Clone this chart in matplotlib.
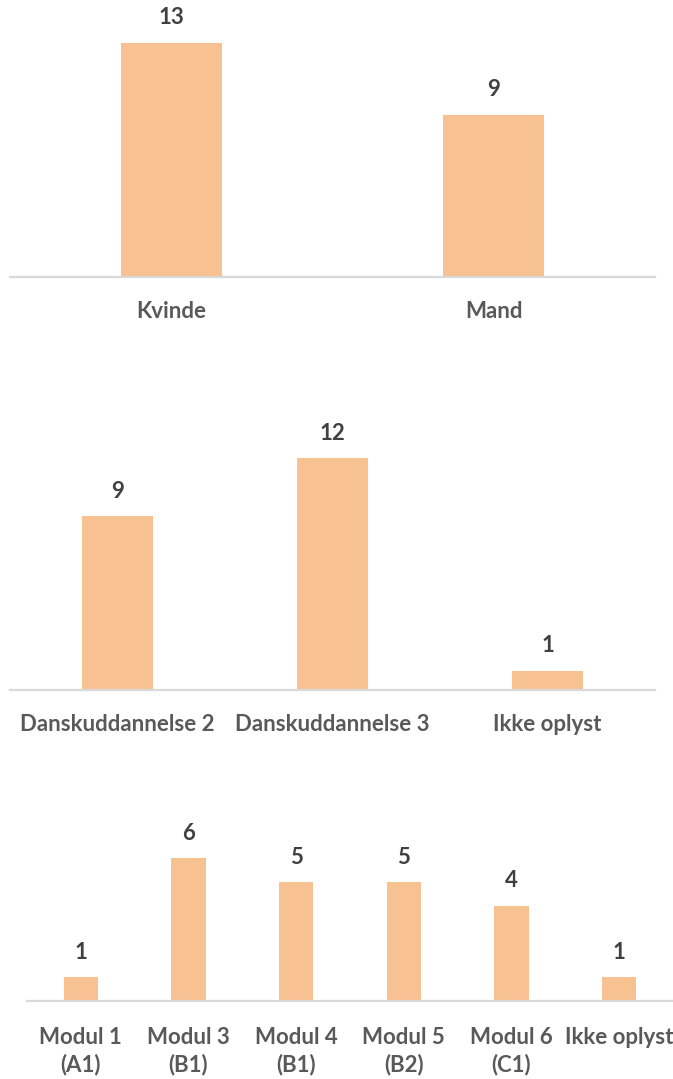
import matplotlib
matplotlib.use("Agg")
import matplotlib.pyplot as plt

plt.rcParams['font.family'] = ['Lato', 'DejaVu Sans']

# Data
gender_labels = ["Kvinde", "Mand"]
gender_values = [13, 9]

edu_labels = ["Danskuddannelse 2", "Danskuddannelse 3", "Ikke oplyst"]
edu_values = [9, 12, 1]

modul_labels = ["Modul 1\n(A1)", "Modul 3\n(B1)", "Modul 4\n(B1)", "Modul 5\n(B2)", "Modul 6\n(C1)", "Ikke oplyst"]
modul_values = [1, 6, 5, 5, 4, 1]

BAR = "#F8C191"
AXIS = "#D9D9D9"
VAL = "#404040"
CAT = "#595959"

W, H = 673, 1079
fig = plt.figure(figsize=(W / 100, H / 100), dpi=100)

def panel(x0, x1, ybase, ppu, top_px, labels, values, width, fs_val=16, fs_cat=16, pad=17):
    bottom = (H - ybase) / H
    height = (ybase - top_px) / H
    ax = fig.add_axes([x0 / W, bottom, (x1 - x0) / W, height])
    ax.set_ylim(0, (ybase - top_px) / ppu)
    n = len(labels)
    ax.set_xlim(-0.5, n - 0.5)
    bars = ax.bar(range(n), values, width=width, color=BAR, zorder=2)
    for b, v in zip(bars, values):
        ax.annotate(str(v), (b.get_x() + b.get_width() / 2, v), xytext=(0, 18),
                    textcoords="offset points", ha="center", va="center",
                    fontsize=fs_val, fontweight="bold", color=VAL)
    for s in ["top", "left", "right"]:
        ax.spines[s].set_visible(False)
    ax.spines["bottom"].set_color(AXIS)
    ax.spines["bottom"].set_linewidth(1.6)
    ax.set_yticks([])
    ax.set_xticks(range(n))
    ax.set_xticklabels(labels, fontsize=fs_cat, fontweight="bold", color=CAT, linespacing=1.3)
    ax.tick_params(axis="x", length=0, pad=pad)
    ax.patch.set_alpha(0)
    return ax

panel(10, 655, 277, 18.0, 10, gender_labels, gender_values, 0.313)
panel(10, 655, 690, 19.33, 420, edu_labels, edu_values, 0.326)
panel(27, 673, 1001, 23.8, 820, modul_labels, modul_values, 0.316, pad=19)

fig.savefig("out.png", dpi=100)
